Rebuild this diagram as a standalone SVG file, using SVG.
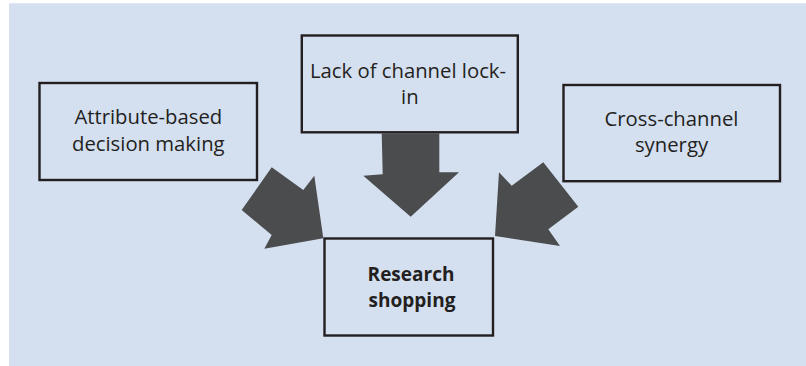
<svg xmlns="http://www.w3.org/2000/svg" width="806" height="366" viewBox="0 0 806 366">
<style>
.box{fill:none;stroke:#231f20;stroke-width:2.4}
.arrow{fill:#4b4c4e}
.t{font-family:"Open Sans","Noto Sans",sans-serif;font-size:20.3px;fill:#231f20;text-anchor:middle}
.b{font-weight:bold;font-size:19px}
</style>
<rect x="0" y="0" width="806" height="366" fill="#ffffff"/>
<rect x="9" y="3.3" width="797" height="362.7" fill="#d4dff0"/>
<g id="connectors">
<polygon class="arrow" points="381.7,133.5 439.3,133.5 439.3,172.3 459,172.3 410.7,216.7 363.3,175.7 382.7,174.3"/>
<polygon class="arrow" points="271.7,167.3 303.3,190 314.3,175.7 323.3,238.3 264.3,248.7 271.7,235 241.7,210"/>
<polygon class="arrow" points="543.3,162.3 578.3,206.7 548.3,229.3 560,246 495,236 499,172.3 511.7,185.7"/>
</g>
<g id="attribute">
<rect class="box" x="39.5" y="83" width="217.5" height="97"/>
<text class="t" x="148.3" y="124.3">Attribute-based</text>
<text class="t" x="148.3" y="151">decision making</text>
</g>
<g id="lockin">
<rect class="box" x="301.8" y="35.5" width="216" height="96.8"/>
<text class="t" x="408" y="78" font-size="19.7">Lack of channel lock-</text>
<text class="t" x="409.8" y="104">in</text>
</g>
<g id="synergy">
<rect class="box" x="563.5" y="85" width="216.5" height="96.2"/>
<text class="t" x="671.5" y="126">Cross-channel</text>
<text class="t" x="671.5" y="152.3">synergy</text>
</g>
<g id="research">
<rect class="box" x="324.5" y="238.5" width="168.5" height="97"/>
<text class="t b" x="411" y="281">Research</text>
<text class="t b" x="412" y="307.3">shopping</text>
</g>
</svg>
